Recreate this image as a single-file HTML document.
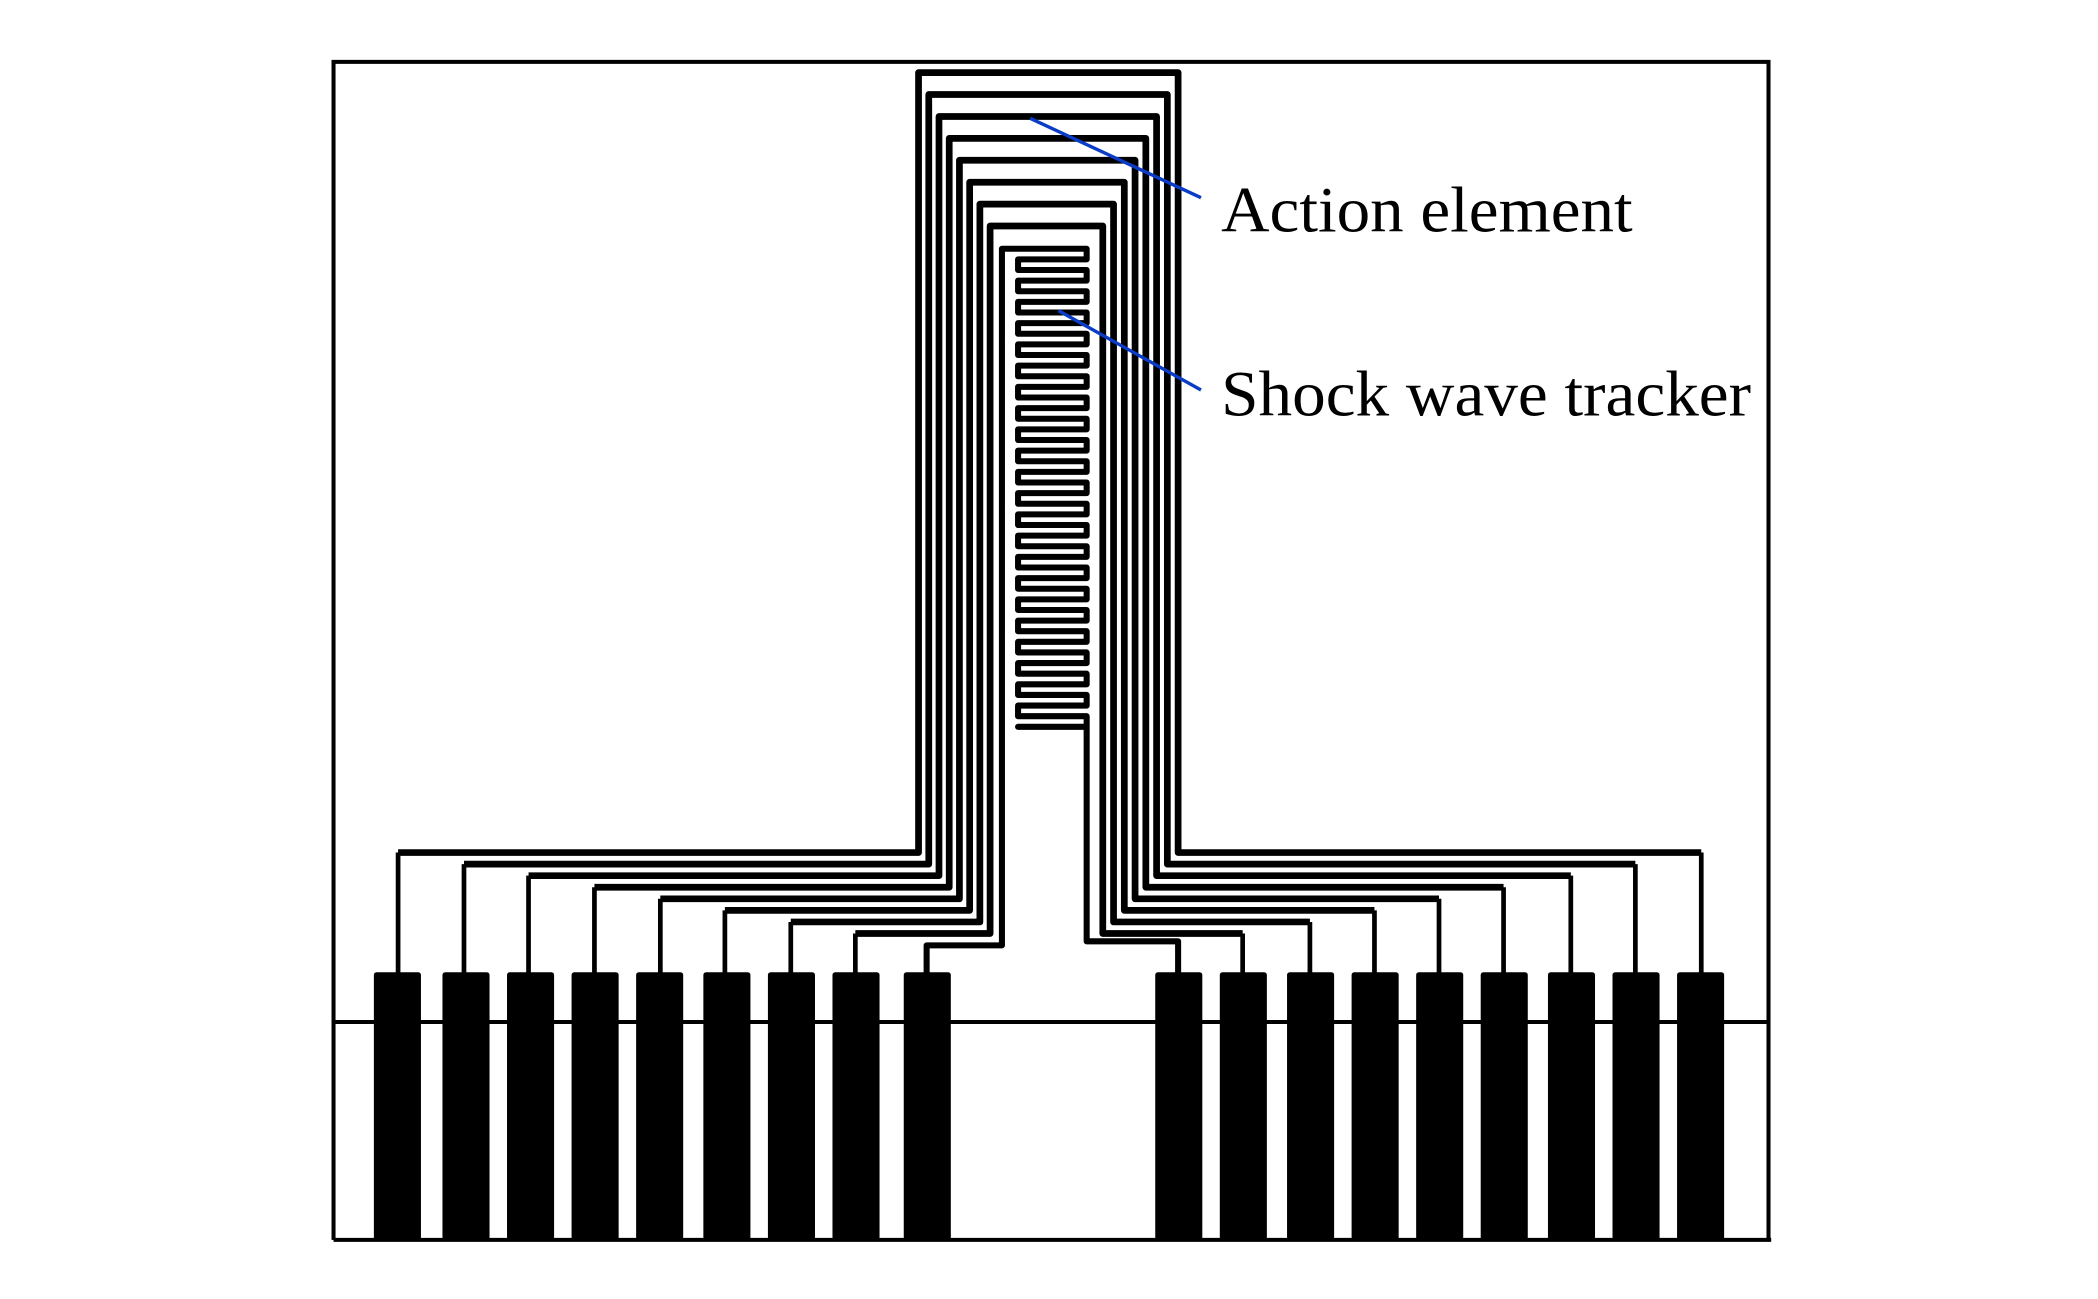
<!DOCTYPE html>
<html><head><meta charset="utf-8"><style>html,body{margin:0;padding:0;background:#fff}svg{display:block}</style></head>
<body>
<svg width="2098" height="1299" viewBox="0 0 1560 966" preserveAspectRatio="none" xmlns="http://www.w3.org/2000/svg">
<rect x="0" y="0" width="1560" height="966" fill="#fff"/>
<g fill="none" stroke="#000" stroke-width="3">
<path d="M248,922 L248,46 L1315,46 L1315,922"/>
<line x1="248" y1="760" x2="1315" y2="760"/>
<line x1="248" y1="922" x2="1317" y2="922"/>
</g>
<g id="traces" fill="none" stroke="#000" stroke-width="5" stroke-linejoin="round"></g>
<g id="pads" fill="#000"></g>
<g stroke="#0a3cc8" stroke-width="2.5">
<line x1="766" y1="88" x2="893" y2="147"/>
<line x1="787" y1="231" x2="893" y2="290"/>
</g>
<g font-family="Liberation Serif, serif" font-size="48" fill="#000">
<text x="908" y="172" textLength="306" lengthAdjust="spacingAndGlyphs">Action element</text>
<text x="908" y="309" textLength="394" lengthAdjust="spacingAndGlyphs">Shock wave tracker</text>
</g>
<script>
var ns="http://www.w3.org/2000/svg";
var T=document.getElementById("traces"),P=document.getElementById("pads");
var L=[296,345,393,442,491,539,588,636,689];
var R=[876,924,974,1022,1070,1118,1168,1216,1265];
function path(d,w){var p=document.createElementNS(ns,"path");p.setAttribute("d",d);if(w)p.setAttribute("stroke-width",w);T.appendChild(p);}
for(var i=0;i<8;i++){
 var xl=683+7.6*i, xr=876-8*i, yt=54+16.3*i, yb=634+8.6*i;
 var lp=L[i], rp=R[8-i];
 path("M"+lp+",725 L"+lp+","+yb,3.5);
 path("M"+rp+",725 L"+rp+","+yb,3.5);
 path("M"+lp+","+yb+" L"+xl+","+yb+" L"+xl+","+yt+" L"+xr+","+yt+" L"+xr+","+yb+" L"+rp+","+yb);
}
var d="M689,725 L689,703 L745,703 L745,185 L808,185";
var y=185,x=808;
while(y<537){y+=7.9;d+=" L"+x+","+y;x=(x==808?757:808);d+=" L"+x+","+y;}
if(x!=808){d+=" L808,"+y;}
d+=" L808,700 L876,700 L876,725";
path(d,4.5);
function rect(x,y,w,h){var r=document.createElementNS(ns,"rect");r.setAttribute("x",x);r.setAttribute("y",y);r.setAttribute("width",w);r.setAttribute("height",h);r.setAttribute("rx",2);P.appendChild(r);}
var LP=[278,329,377,425,473,523,571,619,672],RP=[859,907,957,1005,1053,1101,1151,1199,1247];
LP.concat(RP).forEach(function(x){rect(x,723,35,199);});
</script>
</svg>
</body></html>
